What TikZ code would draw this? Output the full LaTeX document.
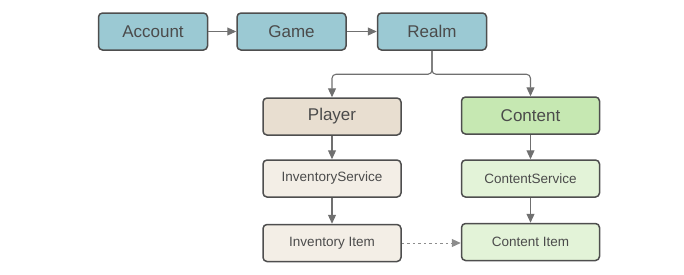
\documentclass[tikz,border=0pt]{standalone}
\usepackage{fontspec}
\setmainfont{Liberation Sans}
\usepackage{xcolor}
\usepackage{tikz}
\usetikzlibrary{arrows.meta, positioning, calc}
\definecolor{realmteal}{RGB}{155, 201, 211}
\definecolor{playerbeige}{RGB}{232, 222, 208}
\definecolor{contentgreen}{RGB}{198, 232, 178}
\definecolor{lightbeige}{RGB}{243, 238, 230}
\definecolor{lightgreen}{RGB}{227, 243, 216}
\definecolor{boxline}{RGB}{78, 78, 78}
\definecolor{textgray}{RGB}{75, 75, 75}
\definecolor{arrowgray}{RGB}{112, 112, 112}

\tikzset{
    box/.style={draw=boxline, line width=1.5pt, rounded corners=4pt, text=textgray,
        minimum height=37pt, inner sep=0pt},
    bigbox/.style={box, minimum width=109pt, font=\fontsize{17}{20}\selectfont},
    subbox/.style={box, minimum width=138pt, font=\fontsize{17}{20}\selectfont},
    smallbox/.style={box, minimum width=138pt, font=\fontsize{13.5}{16}\selectfont},
    link/.style={draw=arrowgray, line width=1.1pt, -{Triangle[length=9pt, width=8pt]}}
}

\begin{document}
\begin{tikzpicture}[x=1pt, y=-1pt]
    \useasboundingbox (0,0) rectangle (684,274);

    % Top row
    \node[bigbox, fill=realmteal] (account) at (153,31.5) {Account};
    \node[bigbox, fill=realmteal] (game) at (291.5,31.5) {Game};
    \node[bigbox, fill=realmteal] (realm) at (432,31.5) {Realm};

    % Player side
    \node[subbox, fill=playerbeige] (player) at (332,116.5) {Player};
    \node[smallbox, fill=lightbeige] (invservice) at (332,178.5) {InventoryService};
    \node[smallbox, fill=lightbeige] (invitem) at (332,243) {Inventory Item};

    % Content side
    \node[subbox, fill=contentgreen] (content) at (530.5,115.5) {Content};
    \node[smallbox, fill=lightgreen] (contservice) at (530.5,178.5) {ContentService};
    \node[smallbox, fill=lightgreen] (contitem) at (530.5,242) {Content Item};

    % Arrows
    \draw[link] (account) -- (game);
    \draw[link] (game) -- (realm);
    \coordinate (split) at ($(realm.south)+(0,23.5)$);
    \draw[link, rounded corners=4pt] (realm.south) -- (split) -| (player.north);
    \draw[link, rounded corners=4pt] (realm.south) -- (split) -| (content.north);
    \draw[link] (player) -- (invservice);
    \draw[link] (invservice) -- (invitem);
    \draw[link] (content) -- (contservice);
    \draw[link] (contservice) -- (contitem);
    \draw[link, draw=arrowgray!80, line width=0.9pt, dash pattern=on 2.5pt off 3pt]
        (invitem) -- (invitem -| contitem.west);
\end{tikzpicture}
\end{document}
